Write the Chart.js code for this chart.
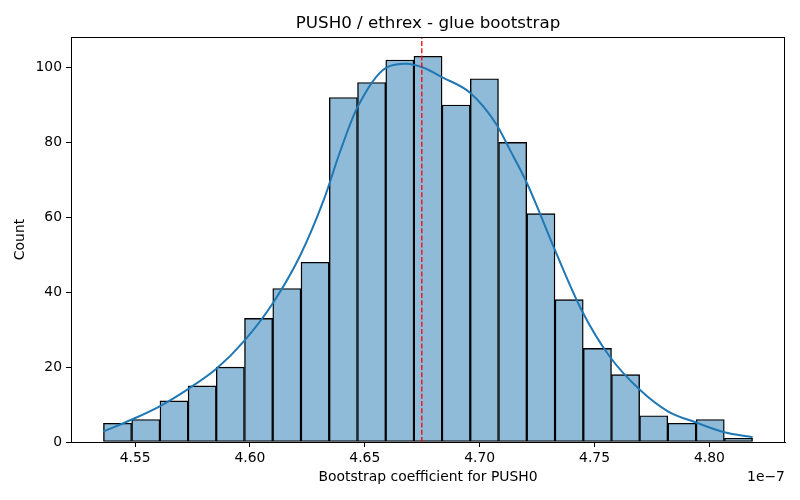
<!DOCTYPE html>
<html>
<head>
<meta charset="utf-8">
<script src="https://cdn.jsdelivr.net/npm/chart.js@4/dist/chart.umd.min.js"></script>
<style>
  html, body { margin: 0; padding: 0; background: #fff; }
  #wrap { width: 800px; height: 500px; }
</style>
</head>
<body>
<div id="wrap"><canvas id="c" width="800" height="500"></canvas></div>
<script>
// ---- data (x values in units of 1e-7) ----
const binEdges = [4.5362, 4.5485, 4.5608, 4.5731, 4.5853, 4.5976, 4.6099, 4.6222,
                  4.6345, 4.6468, 4.6591, 4.6714, 4.6836, 4.6959, 4.7082, 4.7205,
                  4.7328, 4.7451, 4.7574, 4.7696, 4.7819, 4.7942, 4.8065, 4.8188];
const counts = [5, 6, 11, 15, 20, 33, 41, 48, 92, 96, 102, 103, 90, 97, 80, 61, 38, 25, 18, 7, 5, 6, 1];
const kdeX = [4.5361, 4.5486, 4.5609, 4.5732, 4.5855, 4.5975, 4.6101, 4.6217, 4.6322, 4.6391,
              4.6464, 4.6594, 4.6681, 4.6753, 4.6840, 4.6957, 4.7073, 4.7130, 4.7203, 4.7261,
              4.7319, 4.7442, 4.7565, 4.7696, 4.7819, 4.7942, 4.8065, 4.8188];
const kdeY = [2.8, 6.0, 9.6, 14.2, 19.6, 27.0, 37.2, 49.6, 64.8, 77.3,
              88.9, 100.0, 101.0, 100.0, 97.3, 93.3, 84.8, 78.2, 69.5, 61.2,
              52.5, 35.4, 22.9, 14.0, 8.2, 5.2, 2.6, 1.3];
const refLine = 4.6748;
const xTicks = [4.55, 4.60, 4.65, 4.70, 4.75, 4.80];
const yTicks = [0, 20, 40, 60, 80, 100];
const xRange = [4.5221, 4.8329];
const yRange = [0, 108.15];
const titleText = 'PUSH0 / ethrex - glue bootstrap';
const xLabel = 'Bootstrap coefficient for PUSH0';
const yLabel = 'Count';
const offsetText = '1e\u22127';

const FONT = "'DejaVu Sans', sans-serif";

const barData = counts.map((c, i) => ({ x: (binEdges[i] + binEdges[i + 1]) / 2, y: c }));
const kdeData = kdeX.map((x, i) => ({ x: x, y: kdeY[i] }));
const refData = [{ x: refLine, y: yRange[0] }, { x: refLine, y: yRange[1] }];

const framePlugin = {
  id: 'frame',
  afterDraw(chart) {
    const { ctx, chartArea: a } = chart;
    ctx.save();
    ctx.strokeStyle = '#000';
    ctx.lineWidth = 1;
    ctx.strokeRect(Math.round(a.left) + 0.5, Math.round(a.top) + 0.5,
                   Math.round(a.right - a.left) - 1, Math.round(a.bottom - a.top));
    ctx.fillStyle = '#000';
    ctx.font = "16.7px " + FONT;
    ctx.textAlign = 'center';
    ctx.textBaseline = 'middle';
    ctx.fillText(titleText, (a.left + a.right) / 2, 24);
    ctx.font = "13.9px " + FONT;
    ctx.fillText(offsetText, 766, 477);
    ctx.restore();
  }
};

new Chart(document.getElementById('c'), {
  type: 'bar',
  data: {
    datasets: [
      {
        type: 'line',
        data: refData,
        borderColor: '#ff0000',
        borderWidth: 1.3,
        borderDash: [5, 2.2],
        pointRadius: 0,
        fill: false,
        order: 0
      },
      {
        type: 'line',
        data: kdeData,
        borderColor: '#1f77b4',
        borderWidth: 2,
        pointRadius: 0,
        fill: false,
        cubicInterpolationMode: 'monotone',
        order: 1
      },
      {
        type: 'bar',
        data: barData,
        backgroundColor: '#8fbbd9',
        borderColor: '#000000',
        borderWidth: 1.4,
        borderSkipped: false,
        barPercentage: 1,
        categoryPercentage: 1,
        order: 2
      }
    ]
  },
  options: {
    responsive: false,
    animation: false,
    devicePixelRatio: 1,
    layout: { padding: { left: 0, right: 15, top: 37, bottom: 0 } },
    plugins: {
      legend: { display: false },
      tooltip: { enabled: false },
      title: { display: false }
    },
    scales: {
      x: {
        type: 'linear',
        offset: false,
        min: xRange[0],
        max: xRange[1],
        afterBuildTicks: s => { s.ticks = xTicks.map(v => ({ value: v })); },
        afterFit: s => { s.height = 58; },
        grid: { display: true, drawOnChartArea: false, drawTicks: true, tickLength: 5, color: '#000', offset: false },
        border: { display: true, color: '#000', width: 1 },
        ticks: {
          color: '#000',
          font: { family: FONT, size: 13.9 },
          padding: 3,
          maxRotation: 0,
          autoSkip: false,
          callback: v => Number(v).toFixed(2)
        },
        title: {
          display: true,
          text: xLabel,
          color: '#000',
          font: { family: FONT, size: 13.9 },
          padding: { top: 0, bottom: 14.5 }
        }
      },
      y: {
        type: 'linear',
        min: yRange[0],
        max: yRange[1],
        afterBuildTicks: s => { s.ticks = yTicks.map(v => ({ value: v })); },
        afterFit: s => { s.width = 71; },
        grid: { display: true, drawOnChartArea: false, drawTicks: true, tickLength: 5, color: '#000' },
        border: { display: true, color: '#000', width: 1 },
        ticks: {
          color: '#000',
          font: { family: FONT, size: 13.9 },
          padding: 4,
          autoSkip: false
        },
        title: {
          display: true,
          text: yLabel,
          color: '#000',
          font: { family: FONT, size: 13.9 },
          padding: { top: 12.5, bottom: 0 }
        }
      }
    }
  },
  plugins: [framePlugin]
});
</script>
</body>
</html>
